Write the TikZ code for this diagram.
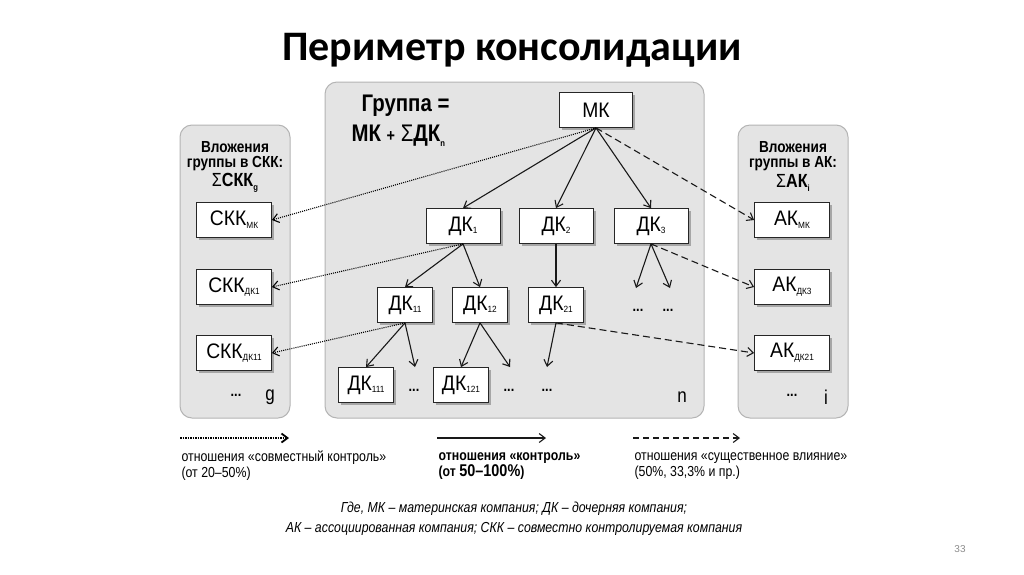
\documentclass[tikz,border=0pt]{standalone}
\usepackage{fontspec}
\setmainfont{Liberation Sans}
\newfontfamily\nar[FakeStretch=0.85]{Liberation Sans}
\newfontfamily\bx[FakeStretch=0.92]{Liberation Sans}
\newfontfamily\ttlfont{Carlito}
\usetikzlibrary{arrows.meta,shadows}
\newcommand\sbs[1]{\raisebox{-0.25ex}{\fontsize{9}{9}\selectfont #1}}
\newcommand\sbh[1]{\raisebox{-0.35ex}{\fontsize{9}{9}\selectfont #1}}
\definecolor{panelfill}{HTML}{E4E4E4}
\definecolor{panelline}{HTML}{B4B4B4}
\tikzset{
  panel/.style={draw=panelline, fill=panelfill, rounded corners=12pt, line width=1pt},
  cbox/.style={draw=black!85, fill=white, line width=0.8pt, minimum height=35pt, inner sep=0pt,
     font=\bx\fontsize{21}{21}\selectfont,
     drop shadow={shadow xshift=2.5pt, shadow yshift=-2.5pt, fill=black!45, opacity=0.7}},
  hdr/.style={font=\nar\bfseries\fontsize{16}{15}\selectfont, align=center},
  ctl/.style={-{Straight Barb[length=6pt,width=9pt]}, line width=1.1pt, black!90},
  jnt/.style={-{Straight Barb[length=6pt,width=9pt]}, line width=1.1pt, dash pattern=on 1pt off 1.1pt, black},
  inf/.style={-{Straight Barb[length=6pt,width=9pt]}, line width=1.1pt, dash pattern=on 7pt off 4pt, black!90},
  dots/.style={font=\nar\bfseries\fontsize{15}{15}\selectfont},
  leg/.style={font=\nar\fontsize{14.5}{16}\selectfont, anchor=west, align=left},
  foot/.style={font=\nar\itshape\fontsize{14.5}{16}\selectfont},
}
\begin{document}
\begin{tikzpicture}[x=1pt,y=-1pt]
\useasboundingbox[fill=white] (0,0) rectangle (1024,574);
% title
\node[font=\ttlfont\bfseries\fontsize{42}{46}\selectfont] (title) at (512,50) {Периметр консолидации};
% panels
\draw[panel] (180,125) rectangle (290,418);
\draw[panel] (325,82) rectangle (704,418);
\draw[panel] (738,125) rectangle (848,418);
% headers
\node[hdr] (hl) at (235,156) {Вложения\\группы в СКК:};
\node[hdr, font=\nar\bfseries\fontsize{19}{19}\selectfont] (hls) at (235,183) {{\mdseries Σ}СКК\sbh{g}};
\node[hdr] (hr) at (793,156) {Вложения\\группы в АК:};
\node[hdr, font=\nar\bfseries\fontsize{19}{19}\selectfont] (hrs) at (793,183) {{\mdseries Σ}АК\sbh{i}};
\node[font=\nar\bfseries\fontsize{24}{24}\selectfont, anchor=west] (hc1) at (358,106) {Группа =};
\node[font=\nar\bfseries\fontsize{24}{24}\selectfont, anchor=west] (hc2) at (348,136) {МК {\fontsize{17}{17}\selectfont +} {\mdseries Σ}ДК\sbh{n}};
% center boxes
\node[cbox, minimum width=73pt] (mk) at (596,110) {МК};
\node[cbox, minimum width=74pt] (dk1) at (463,226) {ДК\sbs{1}};
\node[cbox, minimum width=74pt] (dk2) at (556,226) {ДК\sbs{2}};
\node[cbox, minimum width=74pt] (dk3) at (651,226) {ДК\sbs{3}};
\node[cbox, minimum width=55pt] (dk11) at (405,305) {ДК\sbs{11}};
\node[cbox, minimum width=55pt] (dk12) at (480,305) {ДК\sbs{12}};
\node[cbox, minimum width=55pt] (dk21) at (556,305) {ДК\sbs{21}};
\node[cbox, minimum width=55pt] (dk111) at (366,385) {ДК\sbs{111}};
\node[cbox, minimum width=55pt] (dk121) at (461,385) {ДК\sbs{121}};
\node[dots] (d3a) at (638,310) {...};
\node[dots] (d3b) at (668,310) {...};
\node[dots] (d11) at (414,390) {...};
\node[dots] (d12) at (509,390) {...};
\node[dots] (d21) at (547,390) {...};
\node[font=\nar\fontsize{20}{20}\selectfont] (nn) at (682,397) {n};
% left boxes
\node[cbox, minimum width=75pt] (skkmk) at (234,220) {СКК\sbs{МК}};
\node[cbox, minimum width=75pt] (skk1) at (234,287) {СКК\sbs{ДК1}};
\node[cbox, minimum width=75pt] (skk11) at (234,353) {СКК\sbs{ДК11}};
\node[dots] (dl) at (236,395) {...};
\node[font=\nar\fontsize{20}{20}\selectfont] (gg) at (270,397) {g};
% right boxes
\node[cbox, minimum width=75pt] (akmk) at (792,220) {АК\sbs{МК}};
\node[cbox, minimum width=75pt] (ak3) at (792,287) {АК\sbs{ДК3}};
\node[cbox, minimum width=75pt] (ak21) at (792,353) {АК\sbs{ДК21}};
\node[dots] (dr) at (792,395) {...};
\node[font=\nar\fontsize{20}{20}\selectfont] (ii) at (826,397) {i};
% free ends
\coordinate (f3a) at (636,288);
\coordinate (f3b) at (670,288);
\coordinate (f11) at (415,367);
\coordinate (f12) at (510,367);
\coordinate (f21) at (547,367);
% control arrows
\draw[ctl] (mk.south) -- (dk1.north);
\draw[ctl] (mk.south) -- (dk2.north);
\draw[ctl] (mk.south) -- (dk3.north);
\draw[ctl] (dk1.south) -- (dk11.north);
\draw[ctl] (dk1.south) -- (dk12.north);
\draw[ctl] (dk2.south) -- (dk21.north);
\draw[ctl] (dk3.south) -- (f3a);
\draw[ctl] (dk3.south) -- (f3b);
\draw[ctl] (dk11.south) -- (dk111.north);
\draw[ctl] (dk11.south) -- (f11);
\draw[ctl] (dk12.south) -- (dk121.north);
\draw[ctl] (dk12.south) -- (f12);
\draw[ctl] (dk21.south) -- (f21);
% joint control
\draw[jnt] (mk.south) -- (skkmk.east);
\draw[jnt] (dk1.south) -- (skk1.east);
\draw[jnt] (dk11.south) -- (skk11.east);
% influence
\draw[inf] (mk.south) -- (akmk.west);
\draw[inf] (dk3.south) -- (ak3.west);
\draw[inf] (dk21.south) -- (ak21.west);
% legend
\coordinate (l1a) at (180,438); \coordinate (l1b) at (289,438);
\coordinate (l2a) at (437,438); \coordinate (l2b) at (546,438);
\coordinate (l3a) at (633,438); \coordinate (l3b) at (740,438);
\draw[jnt, line width=1.8pt, dash pattern=on 1.5pt off 1pt] (l1a) -- (l1b);
\draw[ctl] (l2a) -- (l2b);
\draw[inf, dash pattern=on 6pt off 4pt] (l3a) -- (l3b);
\node[leg] (t1) at (178,466) {отношения «совместный контроль»\\(от 20–50\%)};
\node[leg, font=\nar\bfseries\fontsize{14.5}{16}\selectfont] (t2) at (435,466) {отношения «контроль»\\(от {\fontsize{17}{16}\selectfont 50–100\%})};
\node[leg] (t3) at (631,466) {отношения «существенное влияние»\\(50\%, 33,3\% и пр.)};
\node[foot] (f1) at (514,509) {Где, МК – материнская компания; ДК – дочерняя компания;};
\node[foot] (f2) at (514,529) {АК – ассоциированная компания; СКК – совместно контролируемая компания};
\node[font=\fontsize{10}{10}\selectfont, text=black!45] (pg) at (960,549) {33};
\end{tikzpicture}
\end{document}
